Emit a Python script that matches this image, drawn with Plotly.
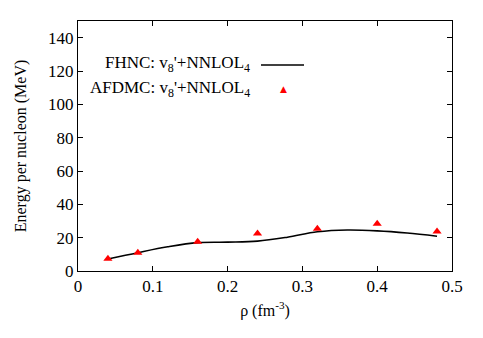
import plotly.graph_objects as go

# FHNC curve (v8'+NNLOL4)
fhnc_rho = [0.04, 0.08, 0.12, 0.16, 0.20, 0.24, 0.28, 0.32, 0.36, 0.40, 0.44, 0.48]
fhnc_e = [7.2, 11.0, 14.5, 17.0, 17.3, 17.9, 20.3, 23.5, 24.6, 24.1, 22.8, 20.9]

# AFDMC points (v8'+NNLOL4)
afdmc_rho = [0.04, 0.08, 0.16, 0.24, 0.32, 0.40, 0.48]
afdmc_e = [7.4, 11.0, 17.5, 22.5, 25.3, 28.3, 23.7]

x_ticks = [0, 0.1, 0.2, 0.3, 0.4, 0.5]
x_tick_labels = ["0", "0.1", "0.2", "0.3", "0.4", "0.5"]
y_ticks = [0, 20, 40, 60, 80, 100, 120, 140]

FONT = "Liberation Serif"

fig = go.Figure()
fig.add_trace(go.Scatter(x=fhnc_rho, y=fhnc_e, mode="lines",
                         line=dict(color="black", width=1.6, shape="spline", smoothing=1.0),
                         showlegend=False))
fig.add_trace(go.Scatter(x=afdmc_rho, y=afdmc_e, mode="markers",
                         marker=dict(symbol="triangle-up", color="red", size=8),
                         showlegend=False))

# page body adds an ~8px offset; compensate
OFF = 7
W, H = 483, 338
L, T = 77 - OFF, 20 - OFF
pw, ph = 374, 250
R, B = W - L - pw, H - T - ph

def px(xp):
    return (xp - OFF - L) / pw

def py(yp):
    return 1 - (yp - OFF - T) / ph

# Legend emulation (gnuplot-style: text then sample)
fig.add_annotation(x=px(251), y=py(63), xref="paper", yref="paper",
                   text="FHNC: v<sub>8</sub>'+NNLOL<sub>4</sub>", showarrow=False,
                   xanchor="right", yanchor="middle", font=dict(family=FONT, size=17, color="black"))
fig.add_annotation(x=px(251), y=py(88), xref="paper", yref="paper",
                   text="AFDMC: v<sub>8</sub>'+NNLOL<sub>4</sub>", showarrow=False,
                   xanchor="right", yanchor="middle", font=dict(family=FONT, size=17, color="black"))
fig.add_shape(type="line", xref="paper", yref="paper",
              x0=px(260), x1=px(303), y0=py(64), y1=py(64),
              line=dict(color="black", width=1.6))
fig.add_annotation(x=px(282), y=py(88), xref="paper", yref="paper",
                   text="▲", showarrow=False, xanchor="center", yanchor="middle",
                   font=dict(family="DejaVu Sans", size=9, color="red"))

axis_common = dict(showline=True, linecolor="black", linewidth=1, mirror="ticks",
                   ticks="inside", ticklen=5, tickcolor="black", showgrid=False,
                   zeroline=False, automargin=False,
                   tickfont=dict(family=FONT, size=17, color="black"))

fig.update_layout(
    width=W, height=H,
    margin=dict(l=L, r=R, t=T, b=B),
    paper_bgcolor="white", plot_bgcolor="white",
    font=dict(family=FONT, size=16, color="black"),
    xaxis=dict(range=[0, 0.5], tickvals=x_ticks, ticktext=x_tick_labels,
               title=dict(text="ρ (fm<sup>-3</sup>)", font=dict(family=FONT, size=16), standoff=9),
               **axis_common),
    yaxis=dict(range=[0, 150], tickvals=y_ticks,
               title=dict(text="Energy per nucleon (MeV)", font=dict(family=FONT, size=16), standoff=17),
               **axis_common),
)

fig.write_html("out.html")
